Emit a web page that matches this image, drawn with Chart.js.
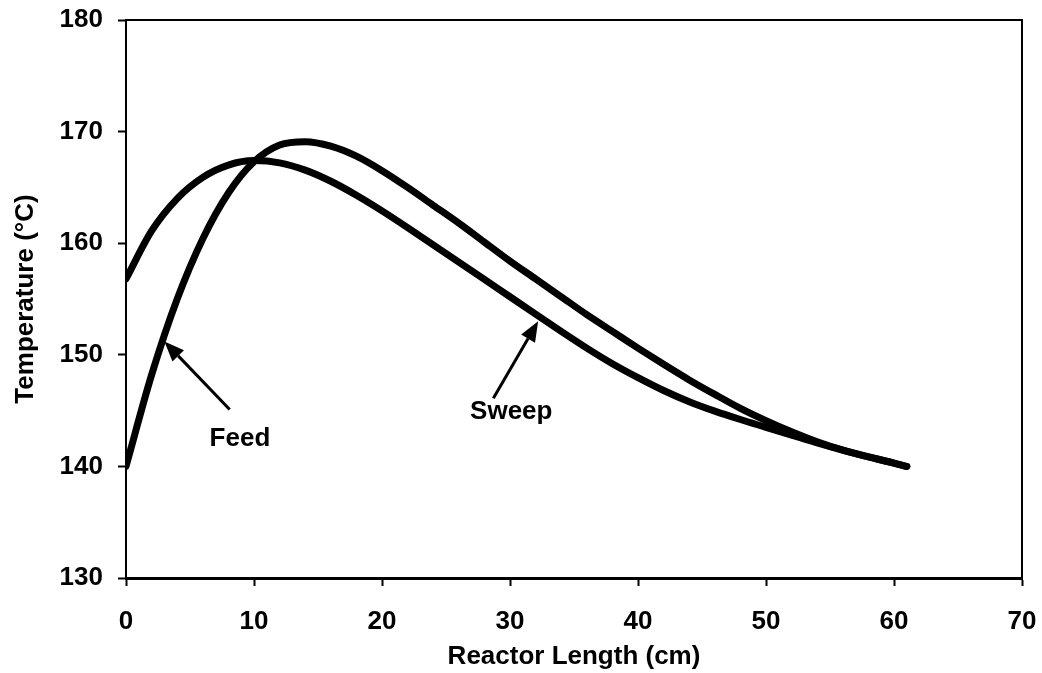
<!DOCTYPE html>
<html>
<head>
<meta charset="utf-8">
<script src="https://cdn.jsdelivr.net/npm/chart.js@4/dist/chart.umd.min.js"></script>
<style>
  html, body { margin: 0; padding: 0; background: #fff; }
  #wrap { width: 1042px; height: 673px; }
</style>
</head>
<body>
<div id="wrap"><canvas id="myChart" width="1042" height="673"></canvas></div>
<script>
// DATA
// =====
var lengthCm = [0, 2, 4, 6, 8, 10, 12, 14, 16, 18, 20, 22, 24, 26, 28, 30, 32, 34, 36, 38, 40, 42, 44, 46, 48, 50, 52, 54, 56, 58, 60, 61];
var feedTemp = [140, 148.2, 155.0, 160.4, 164.5, 167.3, 168.8, 169.1, 168.7, 167.8, 166.5, 165.0, 163.4, 161.8, 160.1, 158.4, 156.8, 155.2, 153.6, 152.1, 150.6, 149.15, 147.75, 146.45, 145.2, 144.1, 143.1, 142.2, 141.45, 140.85, 140.3, 140.0];
var sweepTemp = [156.8, 161.1, 164.0, 165.9, 167.0, 167.4, 167.2, 166.55, 165.55, 164.3, 162.9, 161.4, 159.85, 158.3, 156.75, 155.2, 153.65, 152.1, 150.6, 149.2, 147.95, 146.8, 145.8, 144.95, 144.2, 143.5, 142.8, 142.1, 141.45, 140.85, 140.3, 140.0];
var xTicks = [0, 10, 20, 30, 40, 50, 60, 70];
var yTicks = [130, 140, 150, 160, 170, 180];

// label text, anchor (x, temp), arrow tail and tip
var notes = [
    { text: 'Feed', at: [8.9, 142.5], from: [8.1, 145.1], to: [3.0, 151.2] },
    { text: 'Sweep', at: [30.1, 144.9], from: [28.7, 146.1], to: [32.2, 153.0] }
];

var toPoints = function (xs, ys) {
    return xs.map(function (x, i) { return { x: x, y: ys[i] }; });
};

var FONT = '"Liberation Sans", Arial, sans-serif';

// frame + annotations
var framePlugin = {
    id: 'frame',
    afterDraw: function (chart) {
        var ctx = chart.ctx, a = chart.chartArea;
        var xs = chart.scales.x, ys = chart.scales.y;
        ctx.save();
        ctx.strokeStyle = '#000';
        ctx.lineWidth = 2;
        ctx.beginPath();
        ctx.moveTo(a.left, a.top);
        ctx.lineTo(a.right, a.top);
        ctx.lineTo(a.right, a.bottom);
        ctx.stroke();

        notes.forEach(function (n) {
            var x1 = xs.getPixelForValue(n.from[0]), y1 = ys.getPixelForValue(n.from[1]);
            var x2 = xs.getPixelForValue(n.to[0]), y2 = ys.getPixelForValue(n.to[1]);
            var ang = Math.atan2(y2 - y1, x2 - x1);
            var headLen = 20, headW = 8;
            var bx = x2 - headLen * Math.cos(ang), by = y2 - headLen * Math.sin(ang);
            ctx.lineWidth = 3;
            ctx.beginPath();
            ctx.moveTo(x1, y1);
            ctx.lineTo(bx, by);
            ctx.stroke();
            ctx.fillStyle = '#000';
            ctx.beginPath();
            ctx.moveTo(x2, y2);
            ctx.lineTo(bx + headW * Math.sin(ang), by - headW * Math.cos(ang));
            ctx.lineTo(bx - headW * Math.sin(ang), by + headW * Math.cos(ang));
            ctx.closePath();
            ctx.fill();

            ctx.font = 'bold 26px ' + FONT;
            ctx.textAlign = 'center';
            ctx.textBaseline = 'middle';
            ctx.fillText(n.text, xs.getPixelForValue(n.at[0]), ys.getPixelForValue(n.at[1]));
        });
        ctx.restore();
    }
};

var lineStyle = {
    borderColor: '#000',
    borderWidth: 7,
    borderCapStyle: 'round',
    borderJoinStyle: 'round',
    pointRadius: 0,
    fill: false,
    cubicInterpolationMode: 'monotone'
};

var ctx = document.getElementById('myChart');
var myChart = new Chart(ctx, {
    type: 'line',
    data: {
        datasets: [
            Object.assign({ label: 'Feed', data: toPoints(lengthCm, feedTemp) }, lineStyle),
            Object.assign({ label: 'Sweep', data: toPoints(lengthCm, sweepTemp) }, lineStyle)
        ]
    },
    plugins: [framePlugin],
    options: {
        responsive: false,
        animation: false,
        layout: { padding: { top: 20, right: 20, left: 0, bottom: 0 } },
        plugins: {
            legend: { display: false },
            tooltip: { enabled: false }
        },
        scales: {
            x: {
                type: 'linear',
                min: 0,
                max: 70,
                afterBuildTicks: function (axis) {
                    axis.ticks = xTicks.map(function (v) { return { value: v }; });
                },
                afterFit: function (axis) {
                    axis.height = 95;
                    axis.paddingLeft = 0;
                    axis.paddingRight = 0;
                },
                grid: { drawOnChartArea: false, drawTicks: true, tickLength: 8, tickColor: '#000', tickWidth: 2 },
                border: { display: true, color: '#000', width: 3 },
                ticks: { color: '#000', padding: 20, maxRotation: 0, font: { family: FONT, size: 26, weight: 'bold' } },
                title: { display: true, text: 'Reactor Length (cm)', color: '#000', padding: { top: 0, bottom: 1 }, font: { family: FONT, size: 26, weight: 'bold' } }
            },
            y: {
                type: 'linear',
                min: 130,
                max: 180,
                afterBuildTicks: function (axis) {
                    axis.ticks = yTicks.map(function (v) { return { value: v }; });
                },
                afterFit: function (axis) {
                    axis.width = 126;
                    axis.paddingTop = 0;
                    axis.paddingBottom = 0;
                },
                grid: { drawOnChartArea: false, drawTicks: true, tickLength: 8, tickColor: '#000', tickWidth: 2 },
                border: { display: true, color: '#000', width: 2 },
                ticks: { color: '#000', padding: 15, font: { family: FONT, size: 26, weight: 'bold' } },
                title: { display: true, text: 'Temperature (\u00B0C)', color: '#000', padding: { top: 10, bottom: 0 }, font: { family: FONT, size: 26, weight: 'bold' } }
            }
        }
    }
});
</script>
</body>
</html>
